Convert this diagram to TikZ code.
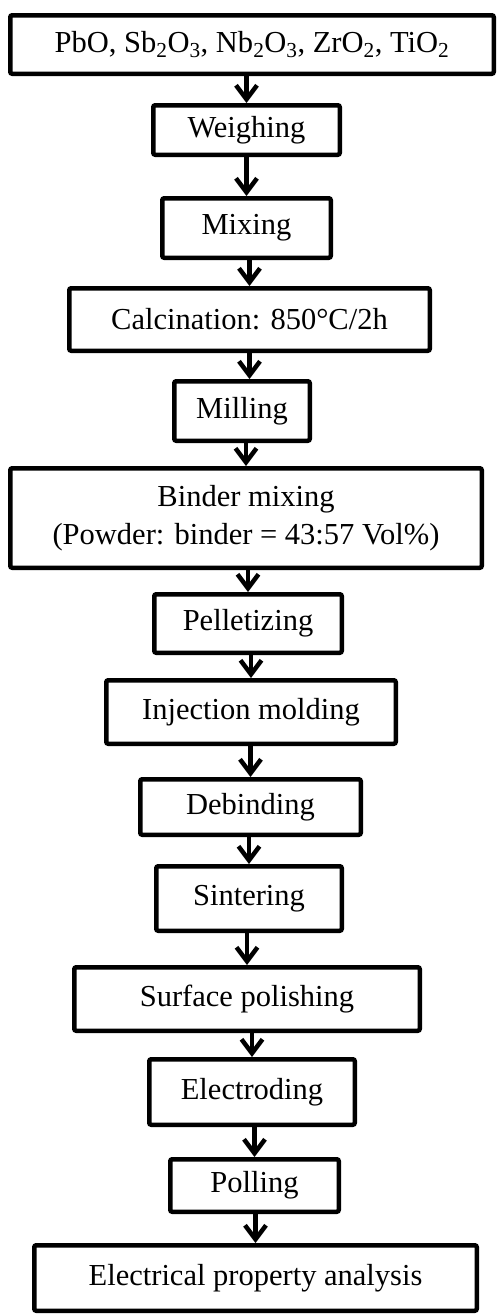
\documentclass[tikz,border=0pt]{standalone}
\usepackage{fontspec}
\setmainfont{Liberation Serif}
\usetikzlibrary{arrows.meta}
\begin{document}
\begin{tikzpicture}[x=1pt,y=-1pt,
  box/.style={draw, line width=4.5pt, rounded corners=2pt, inner sep=0pt, align=center,
    font=\fontsize{30.5}{38}\selectfont},
  arr/.style={line width=4.5pt, -{Straight Barb[length=14pt,width=21pt]}}]
\useasboundingbox (0,0) rectangle (497,1315);
\node[box, minimum width=483.5pt, minimum height=58.5pt] (n1) at (252,44.5) {PbO, Sb\textsubscript{2}O\textsubscript{3}, Nb\textsubscript{2}O\textsubscript{3}, ZrO\textsubscript{2}, TiO\textsubscript{2}};
\node[box, minimum width=186.5pt, minimum height=49.5pt] (n2) at (246.5,130) {Weighing};
\node[box, minimum width=168.5pt, minimum height=59.5pt] (n3) at (246.5,228) {Mixing};
\node[box, minimum width=360.5pt, minimum height=62.5pt] (n4) at (249.5,319.5) {Calcination: 850°C/2h};
\node[box, minimum width=135.5pt, minimum height=59.5pt] (n5) at (242,411) {Milling};
\node[box, minimum width=471.5pt, minimum height=99.5pt] (n6) at (246,518) {Binder mixing\\(Powder: binder = 43:57 Vol\%)};
\node[box, minimum width=187.5pt, minimum height=58.5pt] (n7) at (248,623.5) {Pelletizing};
\node[box, minimum width=289.5pt, minimum height=63.5pt] (n8) at (251,712) {Injection molding};
\node[box, minimum width=220.5pt, minimum height=55.5pt] (n9) at (250.5,807) {Debinding};
\node[box, minimum width=185.5pt, minimum height=64.5pt] (n10) at (249,898.5) {Sintering};
\node[box, minimum width=345.5pt, minimum height=63.5pt] (n11) at (247,999) {Surface polishing};
\node[box, minimum width=205.5pt, minimum height=65.5pt] (n12) at (252,1092) {Electroding};
\node[box, minimum width=168.5pt, minimum height=52.5pt] (n13) at (254.5,1185.5) {Polling};
\node[box, minimum width=442.5pt, minimum height=65.5pt] (n14) at (255.5,1278) {Electrical property analysis};
\draw[arr] (n1.south -| n2.north) -- (n2.north);
\draw[arr] (n2.south -| n3.north) -- (n3.north);
\draw[arr] (n3.south -| n4.north) -- (n4.north);
\draw[arr] (n4.south) -- (n4.south |- n5.north);
\draw[arr] (n5.south -| n6.north) -- (n6.north);
\draw[arr] (n6.south -| n7.north) -- (n7.north);
\draw[arr] (n7.south -| n8.north) -- (n8.north);
\draw[arr] (n8.south -| n9.north) -- (n9.north);
\draw[arr] (n9.south -| n10.north) -- (n10.north);
\draw[arr] (n10.south -| n11.north) -- (n11.north);
\draw[arr] (n11.south -| n12.north) -- (n12.north);
\draw[arr] (n12.south -| n13.north) -- (n13.north);
\draw[arr] (n13.south -| n14.north) -- (n14.north);
\end{tikzpicture}
\end{document}
